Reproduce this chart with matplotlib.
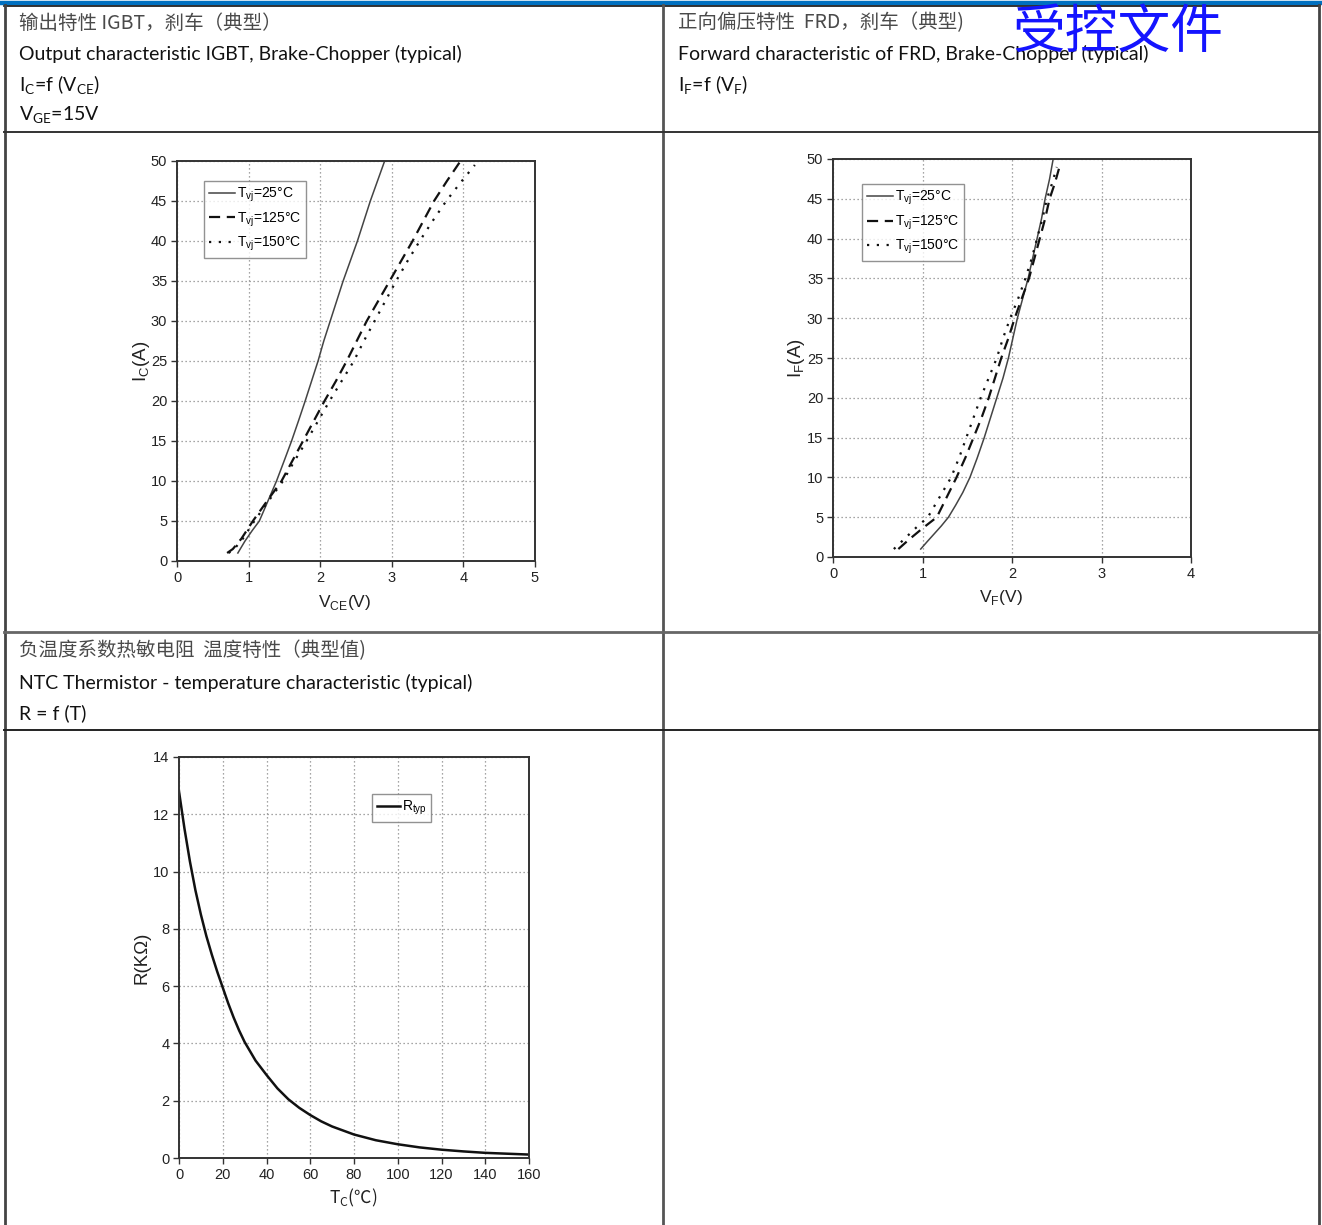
import matplotlib
matplotlib.use("Agg")
import matplotlib.pyplot as plt
from matplotlib import font_manager
from matplotlib.lines import Line2D

W, H = 1322, 1225

# IGBT output characteristic, Ic = f(Vce)
igbt_25_v = [0.85, 0.95, 1.05, 1.15, 1.27, 1.39, 1.50, 1.60, 1.70, 1.79, 1.88, 1.97, 2.05, 2.14, 2.23, 2.32, 2.42, 2.52, 2.61, 2.70, 2.80, 2.90]
igbt_25_i = [1.0, 2.5, 3.8, 5.0, 7.5, 10.0, 12.6, 15.0, 17.6, 20.0, 22.5, 25.0, 27.5, 30.0, 32.5, 35.0, 37.5, 40.0, 42.5, 45.0, 47.5, 50.0]
igbt_125_v = [0.70, 0.78, 0.90, 1.06, 1.25, 1.46, 1.61, 1.76, 1.91, 2.06, 2.22, 2.37, 2.51, 2.65, 2.81, 2.97, 3.13, 3.29, 3.44, 3.59, 3.77, 3.96]
igbt_125_i = [1.0, 1.5, 2.8, 5.0, 7.4, 10.0, 12.5, 15.0, 17.5, 20.0, 22.5, 25.0, 27.5, 30.0, 32.5, 35.0, 37.5, 40.0, 42.5, 45.0, 47.5, 50.0]
igbt_150_v = [0.72, 0.80, 0.92, 1.08, 1.27, 1.48, 1.64, 1.81, 1.97, 2.13, 2.30, 2.47, 2.61, 2.76, 2.91, 3.06, 3.22, 3.39, 3.57, 3.76, 3.96, 4.16]
igbt_150_i = [1.0, 1.5, 2.8, 5.0, 7.4, 10.0, 12.5, 15.0, 17.5, 20.0, 22.5, 25.0, 27.5, 30.0, 32.5, 35.0, 37.5, 40.0, 42.5, 45.0, 47.3, 49.5]

# FRD forward characteristic, If = f(Vf)
frd_25_v = [0.98, 1.05, 1.13, 1.21, 1.29, 1.37, 1.45, 1.53, 1.61, 1.69, 1.76, 1.83, 1.90, 1.96, 2.01, 2.06, 2.12, 2.18, 2.23, 2.28, 2.33, 2.37, 2.42, 2.46]
frd_25_i = [1.0, 1.9, 2.9, 3.9, 5.0, 6.5, 8.1, 10.0, 12.4, 15.0, 17.5, 20.0, 22.5, 25.0, 27.5, 30.0, 32.5, 35.0, 37.5, 40.0, 42.5, 45.0, 47.5, 50.0]
frd_125_v = [0.73, 0.85, 1.00, 1.16, 1.27, 1.38, 1.48, 1.57, 1.66, 1.74, 1.81, 1.88, 1.96, 2.03, 2.11, 2.19, 2.25, 2.31, 2.37, 2.42, 2.48, 2.53]
frd_125_i = [1.0, 2.2, 3.6, 5.0, 7.5, 10.0, 12.5, 15.0, 17.5, 20.0, 22.5, 25.0, 27.5, 30.0, 32.5, 35.0, 37.5, 40.0, 42.5, 45.0, 47.0, 49.0]
frd_150_v = [0.68, 0.80, 0.93, 1.06, 1.19, 1.32, 1.41, 1.49, 1.57, 1.65, 1.74, 1.83, 1.90, 1.98, 2.07, 2.15, 2.22, 2.28, 2.34, 2.39, 2.45, 2.50]
frd_150_i = [1.0, 2.3, 3.7, 5.0, 7.5, 10.0, 12.5, 15.0, 17.5, 20.0, 22.5, 25.0, 27.5, 30.0, 32.5, 35.0, 37.5, 40.0, 42.5, 45.0, 47.0, 49.0]

# NTC thermistor, R = f(T)
ntc_t = [0, 2.5, 5, 7.5, 10, 12.5, 15, 17.5, 20, 22.5, 25, 27.5, 30, 35, 40, 45, 50, 55, 60, 65, 70, 80, 90, 100, 110, 120, 130, 140, 150, 160]
ntc_r = [12.8, 11.5, 10.35, 9.35, 8.5, 7.75, 7.1, 6.5, 5.95, 5.4, 4.9, 4.45, 4.05, 3.4, 2.9, 2.43, 2.05, 1.75, 1.5, 1.28, 1.1, 0.82, 0.62, 0.48, 0.37, 0.29, 0.23, 0.18, 0.15, 0.12]

legend_labels = ["T$_\\mathregular{vj}$=25°C", "T$_\\mathregular{vj}$=125°C", "T$_\\mathregular{vj}$=150°C"]

installed = {f.name for f in font_manager.fontManager.ttflist}
NARROW = "Liberation Sans Narrow" if "Liberation Sans Narrow" in installed else "Liberation Sans"
ARIAL = "Liberation Sans"
TEXT_EN = "Lato"
TEXT_CN = ["Noto Sans CJK SC", "DejaVu Sans"]


def fx(x):
    return x / W


def fy(y):
    return 1 - y / H


def make_axes(fig, left, top, right, bottom):
    return fig.add_axes([fx(left), fy(bottom), (right - left) / W, (bottom - top) / H])


def style_axes(ax, xmax, xstep, ymax, ystep):
    ax.set_xlim(0, xmax)
    ax.set_ylim(0, ymax)
    ax.set_xticks(range(0, xmax + 1, xstep))
    ax.set_yticks(range(0, ymax + 1, ystep))
    ax.grid(True, color="#888888", linestyle=(0, (1, 2.2)), linewidth=0.9)
    for spine in ax.spines.values():
        spine.set_color("#333333")
        spine.set_linewidth(1.4)
    ax.tick_params(direction="out", length=4, width=1.0, color="#333333",
                   labelsize=10.5, labelcolor="#222222", pad=3)
    for lab in ax.get_xticklabels() + ax.get_yticklabels():
        lab.set_family(NARROW)


def add_legend(ax, loc_xy, handles, labels, fontsize=10, handlelength=1.9):
    leg = ax.legend(handles, labels, loc="upper left", bbox_to_anchor=loc_xy,
                    frameon=True, fancybox=False, edgecolor="#777777",
                    prop={"family": NARROW, "size": fontsize},
                    handlelength=handlelength, handletextpad=0.1,
                    borderpad=0.35, labelspacing=0.45, borderaxespad=0)
    leg.get_frame().set_linewidth(1.0)
    return leg


def label_axes(ax, xlabel, ylabel, xpos, ypos, xfamily=None):
    ax.set_xlabel(xlabel, family=xfamily or NARROW, fontsize=12.5, color="#222222")
    ax.set_ylabel(ylabel, family=ARIAL, fontsize=13.5, color="#222222")
    ax.xaxis.set_label_coords(*xpos)
    ax.yaxis.set_label_coords(*ypos)
    ax.xaxis.label.set_va("center")
    ax.yaxis.label.set_va("center")


fig = plt.figure(figsize=(W / 100, H / 100), dpi=100)


# table frame
def hline(y, x0, x1, color="#555555", lw=1.6):
    fig.add_artist(Line2D([fx(x0), fx(x1)], [fy(y), fy(y)], color=color, linewidth=lw))


def vline(x, y0, y1, color="#555555", lw=1.6):
    fig.add_artist(Line2D([fx(x), fx(x)], [fy(y0), fy(y1)], color=color, linewidth=lw))


hline(2.5, 0, W, color="#0070c0", lw=3.2)
hline(5.5, 4, W - 2, color="#111111", lw=1.2)
vline(4.5, 5, H, color="#444444", lw=2.0)
vline(W - 3, 5, H, color="#444444", lw=2.0)
vline(662.5, 5, H, color="#555555", lw=2.0)
hline(132, 4, W - 3, color="#333333", lw=1.4)
hline(632, 4, W - 3, color="#666666", lw=2.0)
hline(730, 4, W - 3, color="#222222", lw=1.4)


# header texts
def cn(x, y, s, size=14):
    fig.text(fx(x), fy(y), s, family=TEXT_CN, fontsize=size, color="#4a4a4a", va="center", ha="left")


def en(x, y, s, size=14):
    fig.text(fx(x), fy(y), s, family=TEXT_EN, fontsize=size, color="#111111", va="center", ha="left")


cn(19, 23, "输出特性 IGBT，刹车（典型）")
en(19, 54, "Output characteristic IGBT, Brake-Chopper (typical)")
en(19, 85, "I$_\\mathregular{C}$=f (V$_\\mathregular{CE}$)")
en(19, 115, "V$_\\mathregular{GE}$=15V")

cn(678, 23, "正向偏压特性  FRD，刹车（典型)")
en(678, 54, "Forward characteristic of FRD, Brake-Chopper (typical)")
en(678, 85, "I$_\\mathregular{F}$=f (V$_\\mathregular{F}$)")

cn(19, 651, "负温度系数热敏电阻  温度特性（典型值)")
en(19, 683, "NTC Thermistor - temperature characteristic (typical)")
en(19, 713, "R = f (T)")

# IGBT chart
ax1 = make_axes(fig, 177, 161, 535, 561)
style_axes(ax1, 5, 1, 50, 5)
l1, = ax1.plot(igbt_25_v, igbt_25_i, color="#444444", linewidth=1.1)
l2, = ax1.plot(igbt_125_v, igbt_125_i, color="#111111", linewidth=1.6, linestyle=(0, (5, 3)))
l3, = ax1.plot(igbt_150_v, igbt_150_i, color="#111111", linewidth=1.6, linestyle=(0, (1, 3.4)))
add_legend(ax1, (0.076, 0.95), [l1, l2, l3], legend_labels)
label_axes(ax1, "V$_\\mathregular{CE}$(V)", "I$_\\mathregular{C}$(A)", (0.469, -0.105), (-0.10, 0.5))

# FRD chart
ax2 = make_axes(fig, 833, 159, 1191, 557)
style_axes(ax2, 4, 1, 50, 5)
m1, = ax2.plot(frd_25_v, frd_25_i, color="#444444", linewidth=1.1)
m2, = ax2.plot(frd_125_v, frd_125_i, color="#111111", linewidth=1.6, linestyle=(0, (5, 3)))
m3, = ax2.plot(frd_150_v, frd_150_i, color="#111111", linewidth=1.6, linestyle=(0, (1, 3.4)))
add_legend(ax2, (0.081, 0.937), [m1, m2, m3], legend_labels)
label_axes(ax2, "V$_\\mathregular{F}$(V)", "I$_\\mathregular{F}$(A)", (0.469, -0.103), (-0.103, 0.5))

# NTC chart
ax3 = make_axes(fig, 179, 757, 529, 1158)
style_axes(ax3, 160, 20, 14, 2)
n1, = ax3.plot(ntc_t, ntc_r, color="#111111", linewidth=1.8)
add_legend(ax3, (0.551, 0.908), [n1], ["R$_\\mathregular{typ}$"], handlelength=1.7)
label_axes(ax3, "T$_\\mathregular{C}$(℃)", "R(KΩ)", (0.497, -0.10), (-0.106, 0.5),
           xfamily=["Noto Sans CJK SC", "DejaVu Sans"])

# watermark
fig.text(fx(1012), fy(48), "受控文件", family=TEXT_CN, fontsize=38, color="#1414ff",
         va="baseline", ha="left")

fig.savefig("out.png", dpi=100)
